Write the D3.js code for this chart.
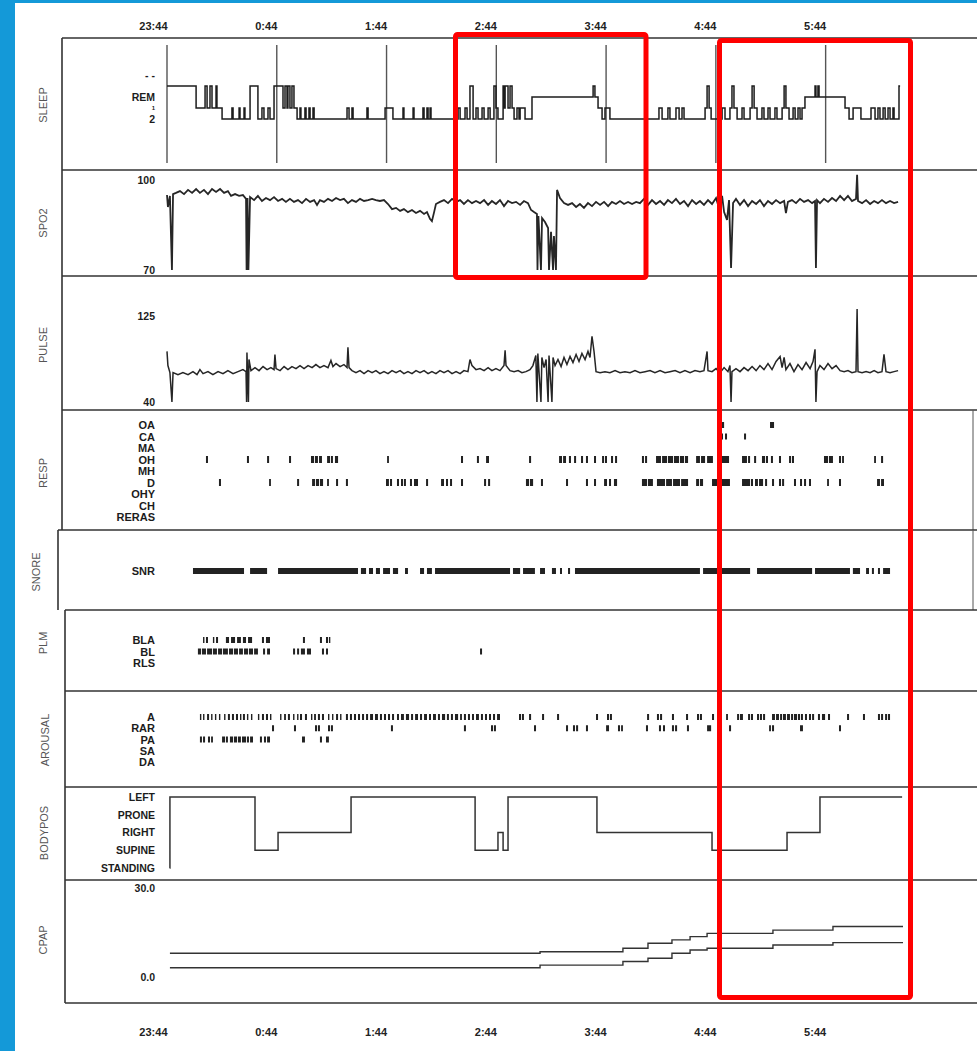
<!DOCTYPE html>
<html>
<head>
<meta charset="utf-8">
<script src="https://cdn.jsdelivr.net/npm/d3@7"></script>
<style>
  body { margin: 0; background: #fff; }
  svg { display: block; }
</style>
</head>
<body>
<svg id="chart" width="977" height="1051"></svg>
<script>
// ---- data (time = minutes after 23:44) ----
const hourTicks = [0, 60, 120, 180, 240, 300, 360];
const hourLabels = ["23:44", "0:44", "1:44", "2:44", "3:44", "4:44", "5:44"];

const sleepStages = ["--", "W", "REM", "1", "2"];
const sleepStageLabels = ["- -", "", "REM", "1", "2"];
const hypnogram = [
  [0,"W"],[15.9,"1"],[20.8,"W"],[21.9,"1"],[23.5,"W"],[24.6,"1"],[26.8,"W"],[27.3,"1"],[30.1,"2"],
  [35.5,"1"],[36.1,"2"],[39.4,"1"],[39.9,"2"],[42.1,"1"],[42.6,"2"],[45.4,"W"],[49.7,"2"],[51.9,"1"],
  [53.0,"2"],[55.2,"1"],[56.3,"2"],[58.5,"W"],[63.4,"1"],[64.5,"W"],[65.6,"1"],[66.1,"W"],[67.2,"1"],
  [68.3,"W"],[69.4,"1"],[71.1,"2"],[72.7,"1"],[73.2,"2"],[75.4,"1"],[76.0,"2"],[77.6,"1"],[78.2,"2"],
  [79.8,"1"],[80.4,"2"],[98.4,"1"],[99.5,"2"],[101.1,"1"],[101.7,"2"],[109.3,"1"],[109.9,"2"],
  [119.2,"1"],[123.5,"2"],[129.0,"1"],[129.5,"2"],[134.5,"1"],[135.0,"2"],[139.9,"1"],[140.5,"2"],
  [142.1,"1"],[142.7,"2"],[143.8,"1"],[144.3,"2"],[159.1,"1"],[160.2,"2"],[162.9,"1"],[164.0,"2"],
  [165.6,"W"],[167.3,"2"],[168.9,"1"],[170.0,"2"],[172.2,"1"],[173.3,"2"],[175.5,"1"],[176.6,"2"],
  [178.7,"W"],[179.8,"1"],[180.9,"2"],[183.7,"W"],[184.2,"1"],[184.8,"W"],[186.4,"1"],[187.5,"W"],
  [188.6,"1"],[189.7,"2"],[191.3,"1"],[192.4,"2"],[193.0,"1"],[195.7,"2"],[199.5,"REM"],
  [232.9,"W"],[233.9,"REM"],[235.6,"1"],[237.8,"2"],[239.4,"1"],[242.1,"2"],[268.9,"1"],[270.6,"2"],
  [273.8,"1"],[274.9,"2"],[278.2,"1"],[279.9,"2"],[281.5,"1"],[282.6,"2"],[294.1,"1"],[295.2,"W"],
  [296.3,"1"],[297.4,"2"],[303.4,"1"],[305.0,"2"],[307.7,"1"],[308.8,"W"],[309.9,"1"],[311.6,"2"],
  [314.3,"1"],[315.4,"2"],[318.7,"1"],[319.8,"W"],[320.9,"1"],[322.5,"2"],[325.2,"1"],[326.3,"2"],
  [328.5,"1"],[329.6,"2"],[332.3,"1"],[333.4,"2"],[336.2,"1"],[337.3,"W"],[338.3,"1"],[340.0,"2"],
  [342.2,"1"],[343.3,"2"],[344.9,"1"],[346.0,"2"],[347.1,"1"],[348.7,"REM"],[354.2,"W"],[354.7,"REM"],
  [355.8,"W"],[356.4,"REM"],[370.6,"1"],[372.8,"2"],[375.0,"1"],[379.3,"2"],[384.8,"1"],[387.0,"2"],
  [388.6,"1"],[389.7,"2"],[391.4,"1"],[392.5,"2"],[394.1,"1"],[395.2,"2"],[396.8,"1"],[397.4,"2"],
  [400.1,"W"],[400.7,"W"]
];

const spo2Ticks = [100, 70];
const spo2 = [
  [0,95],[0.5,91],[1.6,94.7],[2.7,70],[3.3,95.3],[4.9,95.7],[7.1,96.3],[9.3,95.3],[11.5,96.7],[13.7,95.7],
  [15.9,97],[18,95.7],[20.2,96.7],[22.4,95.3],[24.6,97],[26.8,96],[29,97],[31.2,95.7],[33.3,96.3],[35,94.7],
  [37.2,95.3],[39.4,94.7],[41.5,95],[43.2,93.7],[43.5,70],[44,94],[44.5,70],[45.4,94.3],[47.6,93.3],[49.7,94.7],
  [51.9,93],[54.1,94],[56.3,93.3],[58.5,94.3],[60.7,93],[62.9,93.7],[65,92.7],[67.2,93.7],[69.4,92.7],[71.6,93.3],
  [73.8,92.3],[76,93.7],[78.2,92.7],[80.4,93.3],[82,91.7],[83.6,93.3],[85.8,92.7],[88,93.7],[90.2,93],[92.4,94],
  [94.6,93.3],[96.7,93.7],[98.9,92.3],[101.1,93.3],[103.3,92.7],[105.5,93.7],[107.7,93],[109.9,93.3],[112.1,93.7],
  [114.2,93.3],[116.4,93],[118.6,93.3],[120.8,92],[123,90.3],[125.2,90.7],[127.4,89.7],[129.5,90.3],[131.7,89.3],
  [133.9,90],[136.1,89],[138.3,89.7],[140.5,88.7],[142.1,89.3],[143.8,87],[144.8,86.3],[146,89.3],[147,92],
  [149.2,92.7],[151.4,93.3],[153.6,92.3],[155.8,93.7],[158,92.7],[160.2,93.3],[162.3,92],[164.5,93.3],[166.7,92.3],
  [168.9,93],[171.1,92.3],[173.3,93.3],[175.5,91.7],[177.6,93],[179.8,92],[182,93.3],[184.2,91.3],[186.4,93],
  [188.6,92.3],[190.8,92.7],[193,91.7],[195.1,93],[197.3,92.3],[199,90],[200.6,89.3],[202.2,88.7],[202.5,70],
  [203,88],[204.4,70],[205,87.3],[206.6,86],[208.3,84],[208.8,70],[209.9,82.7],[211,70],[211.5,81.3],[212.6,70],
  [213.2,96.7],[214.8,94],[217,92.3],[219.2,91.7],[221.4,92.3],[223.6,91],[225.7,92],[227.9,90.7],[230.1,92.3],
  [232.3,91.3],[234.5,92.7],[236.7,91.7],[238.9,92.7],[241.1,91.3],[243.2,92.7],[245.4,92],[247.6,93],[249.8,92],
  [252,92.7],[254.2,92],[256.4,92.7],[258.5,92.3],[260.7,93.7],[262.9,91.7],[265.1,93.3],[267.3,92],[269.5,93],
  [271.7,91.7],[273.8,93.3],[276,92.3],[278.2,93.7],[280.4,92],[282.6,93],[284.8,91.3],[287,93.3],[289.2,92],
  [291.3,93],[293.5,91.7],[295.7,93.3],[297.9,92],[300.1,94],[301.7,90.7],[303.4,94.7],[304.5,89.3],[306.1,86.7],
  [307.2,93.3],[308.3,70.7],[309.4,92.3],[311,93.7],[313.2,91.7],[315.4,93.3],[317.6,91.3],[319.8,93],[322,92],
  [324.1,93.3],[326.3,91.3],[328.5,93],[330.7,92],[332.9,93.3],[335.1,92.3],[337.3,93],[338.3,89],[339.4,92.7],
  [341.6,93.3],[343.8,92.3],[346,93.7],[348.2,92.7],[350.4,93.3],[352.6,92.3],[354.2,93],[354.7,70.7],[355.3,93.3],
  [356.9,92.3],[359.1,93.7],[361.3,92.7],[363.5,94],[365.7,93],[367.9,94.7],[370.1,93.3],[372.2,94.7],[374.4,93],
  [376.6,93.7],[377.2,101.7],[377.7,93],[379.9,92.3],[382.1,93.3],[384.3,92],[386.5,93],[388.6,92.3],[390.8,93.3],
  [393,92.3],[395.2,93],[397.4,92.3],[399.6,92.7]
];

const pulseTicks = [125, 40];
const pulse = [
  [0,90],[0.5,76],[1.6,69],[2.7,40],[3.3,69],[6,67],[8.7,69],[11.5,67],[14.2,70],[16.4,67],[18,72],[19.7,68],
  [22.4,70],[25.1,67],[27.9,70],[30.6,68],[33.3,71],[36.1,68],[38.8,70],[41.5,72],[43.2,70],[43.5,40],[43.7,89],
  [44.5,40],[44.8,82],[45.9,71],[48.1,74],[50.3,71],[52.5,75],[54.7,72],[56.8,74],[58.5,72],[59,87],[59.6,73],
  [61.8,71],[64,75],[66.1,72],[68.3,75],[70.5,73],[72.7,76],[74.9,73],[77.1,76],[79.3,74],[81.4,77],[83.6,74],
  [85.8,76],[88,74],[89.6,81],[90.7,75],[92.4,78],[94.6,75],[96.7,77],[98.4,74],[98.9,94],[99.5,74],[101.1,71],
  [103.3,69],[105.5,71],[107.7,68],[109.9,71],[112.1,69],[114.2,71],[116.4,68],[118.6,70],[120.8,68],[123,71],
  [125.2,69],[127.4,71],[129.5,68],[131.7,70],[133.9,68],[136.1,71],[138.3,69],[140.5,71],[142.7,68],[144.8,70],
  [147,68],[149.2,71],[151.4,69],[153.6,71],[155.8,68],[158,70],[160.2,68],[162.3,71],[164.5,70],[165.6,82],
  [166.7,76],[168.9,72],[171.1,73],[173.3,71],[175.5,74],[177.6,71],[179.8,73],[182,71],[184.2,76],[184.8,91],
  [185.3,76],[187.5,71],[189.7,70],[191.9,71],[194,69],[196.2,70],[198.4,72],[200,76],[201.6,86],[202.2,40],
  [202.7,88],[204.4,40],[204.9,84],[206.1,74],[207.2,82],[208.3,40],[208.8,86],[210.4,40],[211,84],[212.1,76],
  [213.7,82],[215.4,75],[217,84],[218.6,77],[220.3,85],[221.9,79],[223.6,87],[225.2,80],[226.8,88],[228.5,82],
  [230.1,90],[231.2,84],[232.3,105],[233.4,90],[234.5,70],[236.7,69],[239.4,70],[242.1,69],[244.9,71],[247.6,69],
  [250.3,70],[253.1,69],[255.8,71],[258.5,69],[261.3,70],[264,71],[266.7,69],[269.5,71],[272.2,69],[274.9,70],
  [277.7,71],[280.4,69],[283.1,71],[285.9,69],[288.6,71],[291.3,70],[293.5,71],[295.2,90],[295.7,71],[297.9,70],
  [300.1,73],[302.3,69],[304.5,74],[306.6,70],[307.7,76],[308.3,40],[308.8,70],[311,73],[313.2,70],[315.4,74],
  [317.6,71],[319.8,75],[322,71],[324.1,76],[326.3,72],[328.5,78],[330.7,72],[332.9,80],[335.1,85],[336.2,74],
  [337.3,84],[338.3,72],[340.5,78],[342.7,70],[344.9,77],[347.1,72],[349.3,79],[351.5,73],[353.1,80],[354.2,92],
  [354.7,40],[355.3,70],[356.9,76],[359.1,72],[361.3,78],[363.5,73],[365.7,76],[367.9,71],[370.1,70],[372.2,71],
  [374.4,69],[376.6,70],[377.2,132],[377.7,70],[379.9,69],[382.1,70],[384.3,69],[386.5,71],[388.6,69],[390.8,70],
  [391.9,87],[393,70],[395.2,69],[397.4,70],[399.6,71]
];

const respRows = ["OA", "CA", "MA", "OH", "MH", "D", "OHY", "CH", "RERAS"];
const respOA = [[302.8,304.5],[329.6,331.8]];
const respCA = [[302.8,303.9],[305,306.1],[315.4,316.5]];
const respOH = [
  [21.3,22.4],[43.7,44.8],[54.7,55.8],[66.7,67.8],[78.7,80.4],[80.9,82.5],[83.1,84.7],[87.5,89.1],[89.6,90.7],
  [91.8,93.5],[120.3,121.3],[160.7,161.8],[169.4,170.5],[174.4,176],[197.9,199],[214.3,215.9],[216.5,218.1],
  [219.7,220.8],[222.5,223.6],[226.3,227.4],[229,230.1],[233.4,234.5],[237.8,238.9],[239.4,240.5],[242.7,243.8],
  [244.9,246],[259.6,260.7],[261.3,262.4],[267.3,270],[270.6,273.3],[273.8,276.6],[277.1,279.9],[280.4,282.6],
  [283.1,284.8],[289.2,291.3],[291.9,294.1],[295.2,298.4],[302.3,307.2],[314.3,317],[317.6,318.7],[320.9,322],
  [325.2,326.9],[327.4,328.5],[330.1,331.2],[334.5,335.6],[340,341.1],[341.6,342.7],[359.1,361.3],[361.8,364],
  [367.3,368.4],[369,370],[386.5,387.5],[390.3,391.4]
];
const respD = [
  [28.4,29.5],[55.8,56.8],[71.1,72.2],[79.3,80.9],[81.4,83.1],[83.6,85.3],[87.5,88.5],[92.4,93.5],[97.8,98.9],
  [119.7,121.3],[121.9,123],[125.7,126.8],[127.9,129],[129.5,130.6],[132.8,133.9],[135,137.2],[141.6,142.7],
  [149.8,151.4],[152.5,153.6],[154.7,155.8],[160.7,161.8],[173.3,174.4],[175.5,176.6],[196.2,197.9],[198.4,200.1],
  [204.4,205.5],[218.1,219.2],[229,230.1],[233.4,234.5],[238.9,240.5],[241.6,242.7],[244.3,246],[259.6,262.4],
  [262.9,265.6],[267.8,272.2],[272.8,276],[276.6,280.4],[281,284.8],[289.2,290.8],[291.3,293],[297.9,302.3],
  [302.8,307.7],[314.3,318.7],[319.2,320.3],[321.4,323],[323.6,325.8],[326.9,328],[330.7,331.8],[334.5,335.6],
  [336.2,337.3],[342.7,343.8],[346,347.1],[348.2,349.3],[350.9,352],[360.8,361.8],[367.3,368.4],[388.1,389.7],
  [390.3,391.9]
];

const snoreRows = ["SNR"];
const snore = [
  [14.2,42.1],[45.4,54.7],[60.7,104.4],[106,108.8],[110.4,112.6],[114.2,116.4],[118.1,121.9],[123.5,126.3],
  [130.1,131.7],[138.3,140.5],[142.1,144.8],[146.5,187.5],[189.1,193],[194.6,201.1],[203.9,206.6],[210.4,212.6],
  [214.8,215.9],[219.2,220.3],[223,291.3],[293,318.7],[322.5,352.6],[354.2,373.3],[374.9,378.8],[382.1,383.7],
  [385.3,386.4],[388.6,389.7],[391.4,395.2]
];

const plmRows = ["BLA", "BL", "RLS"];
const plmBLA = [
  [19.7,20.2],[21.3,22.4],[25.1,25.7],[26.8,27.9],[32.2,33.9],[35,37.2],[38.3,40.4],[41.5,43.2],[44.3,46.5],
  [51.9,53],[54.1,56.3],[74.3,75.4],[83.6,84.7],[86.9,88],[88.5,89.1]
];
const plmBL = [
  [16.9,18.6],[19.1,21.3],[21.9,24.6],[25.1,27.3],[27.9,30.1],[30.6,33.3],[33.9,36.1],[36.6,38.8],[39.4,41.5],
  [42.1,44.3],[44.8,47],[47.6,49.7],[52.5,53.6],[54.7,56.3],[68.9,70],[71.1,72.2],[73.2,75.4],[76.5,78.7],
  [84.7,85.8],[86.9,88],[171.1,172.2]
];

const arousalRows = ["A", "RAR", "PA", "SA", "DA"];
const arousalA = [
  [18,18.6],[19.7,20.2],[21.9,23],[24.1,24.6],[26.2,26.8],[28.4,29],[31.2,31.7],[33.3,34.4],[35.5,36.6],
  [37.7,38.8],[39.9,40.4],[41.5,42.6],[43.7,44.3],[45.9,46.5],[49.7,50.3],[51.9,53],[54.1,55.2],[56.3,56.8],
  [61.8,62.3],[64,65],[66.1,67.2],[68.9,69.4],[71.1,71.6],[72.7,73.8],[75.4,76.5],[78.7,79.3],[80.4,81.4],
  [82.5,83.6],[84.7,85.8],[88,88.5],[90.2,90.7],[92.4,93.5],[94.6,95.1],[97.8,98.9],[100,101.1],[102.2,103.3],
  [104.4,105.5],[106.6,107.7],[108.8,109.9],[111,112.6],[113.7,115.3],[116.4,117.5],[118.6,119.7],[120.8,121.9],
  [123,124.1],[125.7,126.8],[127.9,129.5],[130.6,132.3],[133.4,134.5],[135.6,137.2],[138.3,139.4],[140.5,142.1],
  [143.2,144.3],[145.4,147],[148.1,149.2],[150.3,152],[153,154.1],[155.2,156.3],[157.4,159.1],[160.2,161.2],
  [162.3,163.4],[164.5,165.6],[166.7,167.8],[168.9,170.5],[171.6,172.7],[173.8,174.9],[176,177.1],[178.2,179.3],
  [180.4,182],[192.4,193.5],[194,195.1],[197.9,199],[205,206.1],[213.2,214.3],[234.5,235.6],[240.5,241.6],
  [242.1,243.2],[262.4,263.5],[267.8,268.9],[269.5,270.6],[276,277.1],[283.7,284.8],[289.7,290.8],[291.3,292.4],
  [297.9,299],[305.6,306.6],[311.6,312.7],[313.2,314.8],[317.6,318.7],[319.2,320.3],[322.5,323.6],[324.1,325.2],
  [325.8,326.9],[330.7,332.3],[332.9,334.5],[335.1,336.2],[336.7,338.3],[338.9,340.5],[341.1,342.2],[342.7,344.4],
  [344.9,346],[346.5,347.6],[348.7,349.8],[350.9,352],[352.6,353.7],[355.8,356.9],[358,359.7],[361.3,362.4],
  [371.7,372.8],[380.4,381.5],[388.6,389.7],[390.3,391.4],[392.5,393.6],[394.1,395.2]
];
const arousalRAR = [
  [57.4,58.5],[69.4,70.5],[80.9,82],[82.5,83.6],[88,89.1],[89.6,90.7],[122.4,123.5],[162.3,163.4],[177.1,178.2],
  [178.7,179.8],[200.6,201.7],[218.1,219.2],[221.9,223],[223.6,224.7],[229,230.1],[240,241.6],[246.5,247.6],
  [248.2,249.2],[261.8,262.9],[268.9,270],[271.1,272.2],[276,277.1],[277.7,278.8],[284.2,285.3],[295.2,297.4],
  [307.2,308.3],[329.1,330.1],[330.7,331.8],[346,347.6],[367.3,368.4]
];
const arousalPA = [
  [18,19.1],[19.7,20.8],[22.4,23.5],[24.1,25.1],[30.1,31.7],[32.2,33.3],[34.4,36.1],[36.6,38.3],[38.8,40.4],
  [41,43.2],[43.7,44.8],[45.4,47],[50.8,51.9],[53,54.1],[54.7,56.3],[73.8,75.4],[83.6,84.7],[86.9,88.5]
];

const bodyPositions = ["LEFT", "PRONE", "RIGHT", "SUPINE", "STANDING"];
const bodyPos = [
  [1.4,"STANDING"],[1.6,"LEFT"],[48.1,"SUPINE"],[60.7,"RIGHT"],[100.6,"LEFT"],[168.4,"SUPINE"],
  [180.9,"RIGHT"],[183.7,"SUPINE"],[186.4,"LEFT"],[235.0,"RIGHT"],[297.9,"SUPINE"],[338.9,"RIGHT"],
  [356.9,"LEFT"],[401.8,"LEFT"]
];

const cpapTicks = [30, 0];
const cpapUpper = [
  [1.6,8.0],[203.9,8.5],[249.2,9.7],[262.9,11.4],[276.0,12.5],[285.9,13.6],[295.2,14.7],[331.2,15.8],
  [364.0,17.0],[402.3,17.0]
];
const cpapLower = [
  [1.6,3.1],[203.9,4.0],[249.2,5.2],[262.9,6.3],[276.0,8.0],[285.9,9.1],[295.2,9.7],[331.2,10.8],
  [364.0,11.6],[402.3,11.6]
];

// ---- layout ----
const svg = d3.select("#chart");
const FONT = "'Liberation Sans', Arial, sans-serif";
const INK = "#1c1c1c";
const x = d3.scaleLinear().domain([0, 440]).range([167, 972]);

const panels = [
  { title: "SLEEP",   y0: 38,  y1: 170,  left: 62, tx: 43, ty: 105 },
  { title: "SPO2",    y0: 170, y1: 276,  left: 62, tx: 43, ty: 223 },
  { title: "PULSE",   y0: 276, y1: 410,  left: 62, tx: 43, ty: 345 },
  { title: "RESP",    y0: 410, y1: 530,  left: 62, tx: 43, ty: 473, right: true },
  { title: "SNORE",   y0: 530, y1: 610,  left: 58, tx: 36, ty: 572, right: true },
  { title: "PLM",     y0: 610, y1: 691,  left: 65, tx: 43, ty: 643 },
  { title: "AROUSAL", y0: 691, y1: 787,  left: 65, tx: 45, ty: 740 },
  { title: "BODYPOS", y0: 787, y1: 880,  left: 65, tx: 44, ty: 833 },
  { title: "CPAP",    y0: 880, y1: 1003, left: 65, tx: 43, ty: 940 }
];

// blue page frame
svg.append("rect").attr("x", 0).attr("y", 0).attr("width", 977).attr("height", 1051).attr("fill", "#fff");
svg.append("rect").attr("x", 0).attr("y", 0).attr("width", 15).attr("height", 1051).attr("fill", "#1499d8");
svg.append("rect").attr("x", 0).attr("y", 0).attr("width", 977).attr("height", 3).attr("fill", "#1499d8");

// panel borders + titles
panels.forEach(p => {
  svg.append("line").attr("x1", p.left).attr("x2", 977).attr("y1", p.y0).attr("y2", p.y0)
    .attr("stroke", "#333").attr("stroke-width", 1.6);
  svg.append("line").attr("x1", p.left).attr("x2", p.left).attr("y1", p.y0).attr("y2", p.y1)
    .attr("stroke", "#333").attr("stroke-width", 1.6);
  if (p.right) {
    svg.append("line").attr("x1", 973).attr("x2", 973).attr("y1", p.y0).attr("y2", p.y1)
      .attr("stroke", "#555").attr("stroke-width", 1);
  }
  svg.append("text")
    .attr("transform", `translate(${p.tx},${p.ty}) rotate(-90)`)
    .attr("text-anchor", "middle").attr("dy", "0.35em")
    .attr("font-family", FONT).attr("font-size", 11).attr("fill", "#555")
    .text(p.title);
});
svg.append("line").attr("x1", 65).attr("x2", 977).attr("y1", 1003).attr("y2", 1003)
  .attr("stroke", "#333").attr("stroke-width", 1.6);

// hour axes top and bottom
function styleAxis(g) {
  g.select(".domain").remove();
  g.selectAll("text").attr("font-family", FONT).attr("fill", "#222");
}
svg.append("g").attr("transform", "translate(0,30)")
  .call(d3.axisTop(x).tickValues(hourTicks).tickSize(0).tickPadding(0).tickFormat((d, i) => hourLabels[i]))
  .call(styleAxis)
  .call(g => g.selectAll("text").attr("text-anchor", "end").attr("font-size", 11).attr("font-weight", "bold"));
svg.append("g").attr("transform", "translate(0,1028)")
  .call(d3.axisBottom(x).tickValues(hourTicks).tickSize(0).tickPadding(0).tickFormat((d, i) => hourLabels[i]))
  .call(styleAxis)
  .call(g => g.selectAll("text").attr("text-anchor", "end").attr("font-size", 11).attr("font-weight", "bold"));

// left label axes
function leftAxis(scale, values, fmt, size) {
  return svg.append("g").attr("transform", "translate(155,0)")
    .call(d3.axisLeft(scale).tickValues(values).tickSize(0).tickPadding(0).tickFormat(fmt))
    .call(styleAxis)
    .call(g => g.selectAll("text").attr("font-size", size || 10.5).attr("font-weight", "bold").attr("fill", INK));
}

// ---- SLEEP ----
const ySleep = d3.scalePoint().domain(sleepStages).range([75, 119]);
leftAxis(ySleep, sleepStages, (d, i) => sleepStageLabels[i])
  .selectAll("text").filter(d => d === "1").attr("font-size", 6);
svg.append("g").selectAll("line").data(hourTicks).join("line")
  .attr("x1", d => x(d)).attr("x2", d => x(d)).attr("y1", 45).attr("y2", 163)
  .attr("stroke", "#555").attr("stroke-width", 1.4);
svg.append("path").datum(hypnogram)
  .attr("d", d3.line().x(d => x(d[0])).y(d => ySleep(d[1])).curve(d3.curveStepAfter))
  .attr("fill", "none").attr("stroke", INK).attr("stroke-width", 1.5);

// ---- SPO2 ----
const ySpo2 = d3.scaleLinear().domain([70, 100]).range([270, 180]);
leftAxis(ySpo2, spo2Ticks, d3.format("d"));
svg.append("path").datum(spo2)
  .attr("d", d3.line().x(d => x(d[0])).y(d => ySpo2(d[1])))
  .attr("fill", "none").attr("stroke", "#262626").attr("stroke-width", 1.8);

// ---- PULSE ----
const yPulse = d3.scaleLinear().domain([40, 125]).range([402, 316]);
leftAxis(yPulse, pulseTicks, d3.format("d"));
svg.append("path").datum(pulse)
  .attr("d", d3.line().x(d => x(d[0])).y(d => yPulse(d[1])))
  .attr("fill", "none").attr("stroke", "#262626").attr("stroke-width", 1.5);

// ---- event rows ----
function drawEvents(yScale, key, events, h) {
  svg.append("g").selectAll("rect").data(events).join("rect")
    .attr("x", d => x(d[0]))
    .attr("width", d => Math.max(1.4, x(d[1]) - x(d[0])))
    .attr("y", yScale(key) - h / 2)
    .attr("height", h)
    .attr("fill", "#222");
}

const yResp = d3.scalePoint().domain(respRows).range([425, 517]);
leftAxis(yResp, respRows, d => d, 11);
drawEvents(yResp, "OA", respOA, 6);
drawEvents(yResp, "CA", respCA, 6);
drawEvents(yResp, "OH", respOH, 7);
drawEvents(yResp, "D", respD, 7);

const ySnore = d3.scalePoint().domain(snoreRows).range([571, 571]);
leftAxis(ySnore, snoreRows, d => d, 11);
drawEvents(ySnore, "SNR", snore, 6);

const yPlm = d3.scalePoint().domain(plmRows).range([640, 663]);
leftAxis(yPlm, plmRows, d => d, 11);
drawEvents(yPlm, "BLA", plmBLA, 6);
drawEvents(yPlm, "BL", plmBL, 6);

const yArousal = d3.scalePoint().domain(arousalRows).range([717, 762]);
leftAxis(yArousal, arousalRows, d => d, 11);
drawEvents(yArousal, "A", arousalA, 6);
drawEvents(yArousal, "RAR", arousalRAR, 6);
drawEvents(yArousal, "PA", arousalPA, 6);

// ---- BODYPOS ----
const yBody = d3.scalePoint().domain(bodyPositions).range([797, 868]);
leftAxis(yBody, bodyPositions, d => d, 10.5);
svg.append("path").datum(bodyPos)
  .attr("d", d3.line().x(d => x(d[0])).y(d => yBody(d[1])).curve(d3.curveStepAfter))
  .attr("fill", "none").attr("stroke", "#333").attr("stroke-width", 1.5);

// ---- CPAP ----
const yCpap = d3.scaleLinear().domain([0, 30]).range([977, 888]);
leftAxis(yCpap, cpapTicks, d3.format(".1f"));
[cpapUpper, cpapLower].forEach(series => {
  svg.append("path").datum(series)
    .attr("d", d3.line().x(d => x(d[0])).y(d => yCpap(d[1])).curve(d3.curveStepAfter))
    .attr("fill", "none").attr("stroke", "#333").attr("stroke-width", 1.4);
});

// red highlight boxes drawn over the chart
svg.append("rect").attr("x", 455.5).attr("y", 34.5).attr("width", 190.5).attr("height", 243)
  .attr("fill", "none").attr("stroke", "#f00").attr("stroke-width", 5).attr("rx", 2);
svg.append("rect").attr("x", 719.5).attr("y", 40.5).attr("width", 191).attr("height", 957)
  .attr("fill", "none").attr("stroke", "#f00").attr("stroke-width", 5).attr("rx", 2);
</script>
</body>
</html>
